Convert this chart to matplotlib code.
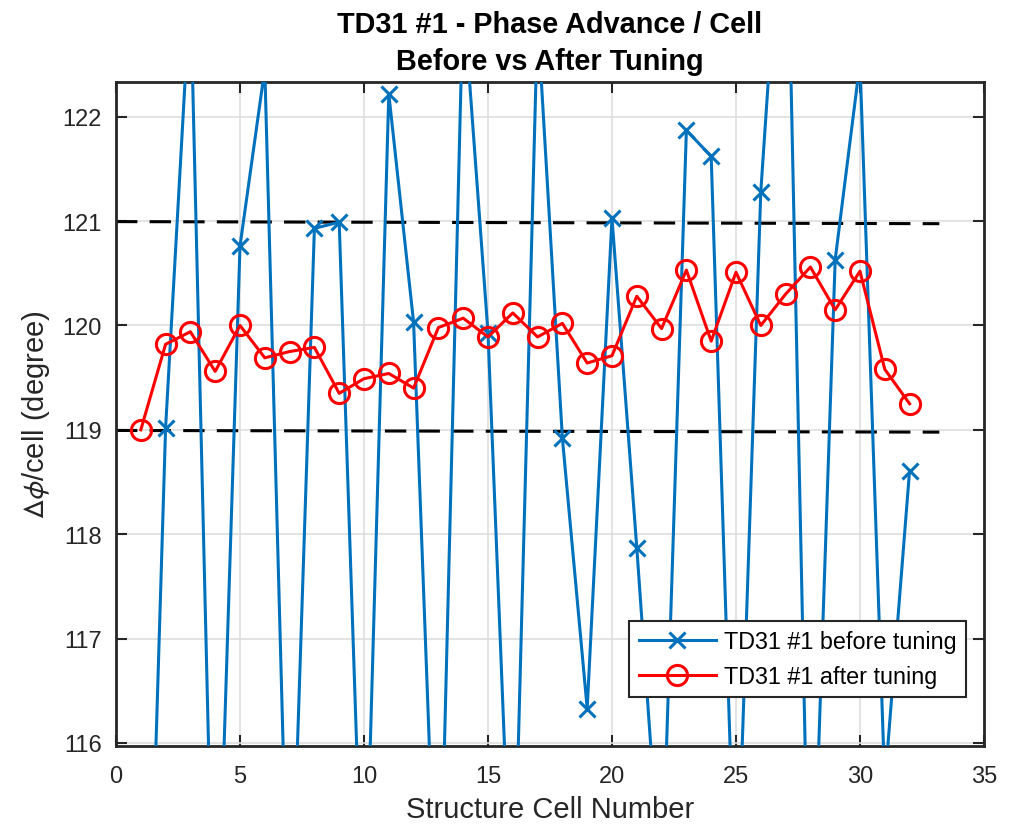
import matplotlib.pyplot as plt
import numpy as np

plt.rcParams['font.family'] = ['Liberation Sans', 'DejaVu Sans']
plt.rcParams['mathtext.fontset'] = 'stixsans'

# cell numbers
cells = np.arange(1, 33)

# phase advance per cell before tuning (many points fall outside the view)
before = [111.2, 119.02, 123.25, 113.3, 120.76, 122.46, 113.68, 120.93,
          120.99, 113.86, 122.22, 120.03, 113.65, 123.17, 119.93, 113.98,
          122.95, 118.92, 116.33, 121.03, 117.87, 114.5, 121.87, 121.62,
          114.2, 121.28, 124.8, 113.6, 120.63, 122.52, 115.6, 118.61]

# phase advance per cell after tuning
after = [119.00, 119.82, 119.94, 119.56, 120.00, 119.69, 119.75, 119.79,
         119.35, 119.49, 119.54, 119.40, 119.98, 120.07, 119.89, 120.12,
         119.89, 120.02, 119.64, 119.71, 120.28, 119.97, 120.53, 119.85,
         120.51, 120.00, 120.30, 120.56, 120.15, 120.52, 119.58, 119.25]

# tolerance band lines
band_x = [0, 33.2]
upper_band = [120.995, 120.975]
lower_band = [118.994, 118.978]

fig = plt.figure(figsize=(10.22, 8.29), dpi=100)
ax = fig.add_axes([0.1135, 0.0993, 0.8493, 0.8009])

blue = '#0072BD'
ax.plot(cells, before, color=blue, lw=2.2, marker='x', ms=12, mew=2.2,
        label='TD31 #1 before tuning', zorder=3)
ax.plot(cells, after, color='#FF0000', lw=2.2, marker='o', ms=14.5, mew=2.2,
        mfc='none', label='TD31 #1 after tuning', zorder=4)
ax.plot(band_x, upper_band, 'k--', lw=2.2, dashes=(7, 4), zorder=2)
ax.plot(band_x, lower_band, 'k--', lw=2.2, dashes=(7, 4), zorder=2)

ax.set_xlim(0, 35)
ax.set_ylim(115.974, 122.335)
ax.set_xticks(np.arange(0, 36, 5))
ax.set_yticks(np.arange(116, 123, 1))
ax.grid(True, color='#dedede', lw=1.2)
ax.set_axisbelow(True)
ax.tick_params(direction='in', length=8, width=1.5, top=True, right=True,
               labelsize=17, colors='#262626', pad=10)
ax.tick_params(axis='x', pad=14)
for s in ax.spines.values():
    s.set_linewidth(2)
    s.set_color('#262626')

ax.set_xlabel('Structure Cell Number', fontsize=21, color='#262626', labelpad=6)
ax.set_ylabel(r'$\Delta\phi$/cell (degree)', fontsize=21, color='#262626',
              labelpad=8)
ax.set_title('TD31 #1 - Phase Advance / Cell\nBefore vs After Tuning',
             fontsize=20.8, fontweight='bold', pad=9, linespacing=1.4)

leg = ax.legend(loc='lower right', bbox_to_anchor=(0.979, 0.073),
                borderaxespad=0, fontsize=16.8, fancybox=False,
                edgecolor='#262626', framealpha=1, handlelength=3.3,
                handletextpad=0.35)
leg.get_frame().set_linewidth(1.5)

fig.savefig('out.png', dpi=100)
